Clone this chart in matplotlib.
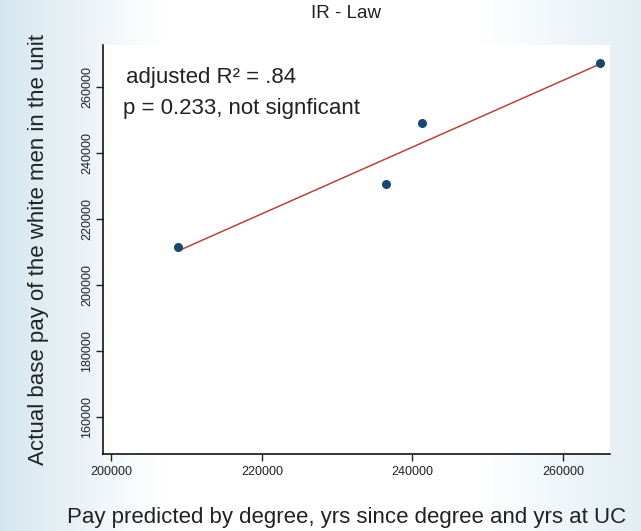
import numpy as np
import matplotlib
matplotlib.use("Agg")
import matplotlib.pyplot as plt
from matplotlib.colors import LinearSegmentedColormap

plt.rcParams['font.family'] = ['Liberation Sans', 'DejaVu Sans']

# data
predicted = [208800, 236500, 241300, 264900]
actual = [211600, 230700, 249100, 267200]
xticks = [200000, 220000, 240000, 260000]
yticks = [160000, 180000, 200000, 220000, 240000, 260000]

x = np.array(predicted)
y = np.array(actual)
m, b = np.polyfit(x, y, 1)

fig = plt.figure(figsize=(6.41, 5.31), dpi=100)

# light blue fade at the edges, like the slide background
bg = fig.add_axes([0, 0, 1, 1], zorder=-10)
cmap = LinearSegmentedColormap.from_list("bg", ["#d6e6ef", "#ffffff", "#ffffff", "#ffffff", "#e2eef4"])
bg.imshow(np.linspace(0, 1, 256)[None, :], aspect="auto", cmap=cmap, extent=[0, 1, 0, 1])
bg.axis("off")

ax = fig.add_axes([0.161, 0.145, 0.791, 0.77])
ax.set_facecolor("white")
ax.plot(x, y, "o", color="#1a476f", markersize=5.5, zorder=3)
xs = np.array([x.min(), x.max()])
ax.plot(xs, m*xs + b, color="#b5443a", linewidth=1.1, zorder=2)

ax.set_xlim(198900, 266300)
ax.set_ylim(148800, 272700)
ax.set_xticks(xticks)
ax.set_yticks(yticks)
ax.set_xticklabels([str(t) for t in xticks], fontsize=9)
ax.set_yticklabels([str(t) for t in yticks], fontsize=9, rotation=90, va="center")
ax.tick_params(direction="out", length=5, width=1, colors="#222222")
ax.tick_params(axis="y", pad=2)
for s in ["top", "right"]:
    ax.spines[s].set_visible(False)
ax.spines["left"].set_linewidth(1.1)
ax.spines["bottom"].set_linewidth(1.1)

ax.text(0.045, 0.92, "adjusted R² = .84", transform=ax.transAxes, fontsize=16,
        va="center", color="#222222")
ax.text(0.04, 0.845, "p = 0.233, not signficant", transform=ax.transAxes, fontsize=16,
        va="center", color="#222222")

fig.text(0.54, 0.974, "IR - Law", ha="center", va="center", fontsize=13.5, color="#222222")
fig.text(0.54, 0.025, "Pay predicted by degree, yrs since degree and yrs at UC",
         ha="center", va="center", fontsize=16, color="#222222")
fig.text(0.06, 0.53, "Actual base pay of the white men in the unit", rotation=90,
         ha="center", va="center", fontsize=16, color="#222222")

fig.savefig("out.png", dpi=100)
